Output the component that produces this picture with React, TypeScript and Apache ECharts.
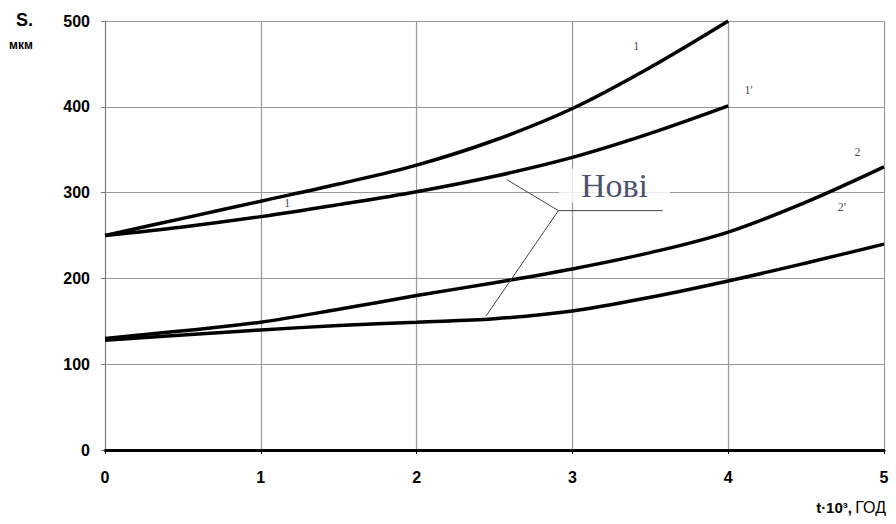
import React, { useEffect, useRef } from "react";
import * as echarts from "echarts";

const xTicks = [0, 1, 2, 3, 4, 5];
const yTicks = [0, 100, 200, 300, 400, 500];

const x1 = [0, 0.5, 1, 1.5, 2, 2.5, 3, 3.5, 4];
const s1 = [250, 270, 290, 310, 332, 361, 398, 446, 500];
const s1p = [250, 260, 272, 286, 301, 319, 341, 369, 401];

const x2 = [0, 0.5, 1, 1.5, 2, 2.5, 3, 3.5, 4, 4.5, 5];
const s2 = [130, 139, 149, 164, 180, 195, 211, 230, 254, 289, 330];
const s2p = [128, 134, 140, 145, 149, 153, 162, 178, 197, 218, 240];

const curveLabels = [
  { name: "1", x: 3.41, y: 471 },
  { name: "1'", x: 4.13, y: 419 },
  { name: "2", x: 4.83, y: 347 },
  { name: "2'", x: 4.73, y: 283 },
  { name: "1", x: 1.17, y: 288 },
];

const calloutText = "Нові";
const calloutPos = [3.27, 308];
const leaderA = [[2.58, 315], [2.91, 279], [3.58, 279]];
const leaderB = [[2.91, 279], [2.445, 156]];

const zip = (xs: number[], ys: number[]) => xs.map((x, i) => [x, ys[i]]);

export default function App() {
  const ref = useRef<HTMLDivElement>(null);
  useEffect(() => {
    if (!ref.current) return;
    const chart = echarts.init(ref.current, null, { renderer: "svg" });
    const curve = (data: number[][]) => ({
      type: "line",
      data,
      smooth: 0.35,
      showSymbol: false,
      lineStyle: { color: "#000", width: 3.5 },
      z: 3,
    });
    const leader = (data: number[][]) => ({
      type: "line",
      data,
      smooth: false,
      showSymbol: false,
      lineStyle: { color: "#444", width: 1 },
      z: 4,
    });
    const tickFont = {
      fontFamily: "Liberation Sans, Arial, sans-serif",
      fontWeight: "bold",
      fontSize: 16,
      color: "#000",
    };
    chart.setOption({
      animation: false,
      backgroundColor: "#fff",
      grid: { left: 105, right: 12, top: 21, bottom: 74 },
      xAxis: {
        type: "value",
        min: 0,
        max: 5,
        interval: 1,
        axisLine: { show: true, onZero: false, lineStyle: { color: "#000", width: 3 } },
        axisTick: { show: true, length: 4, lineStyle: { color: "#000" } },
        axisLabel: {
          ...tickFont,
          margin: 19,
          formatter: (v: number) => (xTicks.includes(v) ? String(v) : ""),
        },
        splitLine: { show: true, lineStyle: { color: "#999", width: 1.2 } },
      },
      yAxis: {
        type: "value",
        min: 0,
        max: 500,
        interval: 100,
        axisLine: { show: true, lineStyle: { color: "#777", width: 1 } },
        axisTick: { show: true, length: 4, lineStyle: { color: "#777" } },
        axisLabel: {
          ...tickFont,
          margin: 15,
          formatter: (v: number) => (yTicks.includes(v) ? String(v) : ""),
        },
        splitLine: { show: true, lineStyle: { color: "#999", width: 1.2 } },
      },
      series: [
        curve(zip(x1, s1)),
        curve(zip(x1, s1p)),
        curve(zip(x2, s2)),
        curve(zip(x2, s2p)),
        leader(leaderA),
        leader(leaderB),
        {
          type: "scatter",
          symbolSize: 0,
          data: curveLabels.map((d) => ({ value: [d.x, d.y], name: d.name })),
          label: {
            show: true,
            position: "inside",
            formatter: "{b}",
            fontFamily: "Liberation Serif, serif",
            fontSize: 12,
            color: "#111",
          },
          z: 5,
        },
        {
          type: "scatter",
          symbolSize: 0,
          data: [{ value: calloutPos, name: calloutText }],
          label: {
            show: true,
            position: "inside",
            formatter: "{b}",
            fontFamily: "Liberation Serif, DejaVu Serif, serif",
            fontSize: 34,
            color: "#1a2347",
            backgroundColor: "#fff",
            padding: [0, 22, 0, 22],
          },
          z: 6,
        },
      ],
      graphic: [
        {
          type: "text",
          left: 16,
          top: 11,
          style: {
            text: "S.",
            fontFamily: "Liberation Sans, Arial, sans-serif",
            fontWeight: "bold",
            fontSize: 18,
            fill: "#000",
          },
        },
        {
          type: "text",
          left: 9,
          top: 39,
          style: {
            text: "мкм",
            fontFamily: "Liberation Sans, Arial, sans-serif",
            fontWeight: "bold",
            fontSize: 12,
            fill: "#000",
          },
        },
        {
          type: "text",
          right: 10,
          top: 499,
          style: {
            rich: {
              a: { fontFamily: "Liberation Sans, Arial, sans-serif", fontWeight: "bold", fontSize: 15, fill: "#000" },
              b: { fontFamily: "Liberation Sans, Arial, sans-serif", fontSize: 16, fill: "#000" },
            },
            text: "{a|t·10³,} {b|ГОД}",
          },
        },
      ],
    });
    return () => chart.dispose();
  }, []);
  return <div ref={ref} style={{ width: 896, height: 524, position: "absolute", left: 0, top: 0 }} />;
}
